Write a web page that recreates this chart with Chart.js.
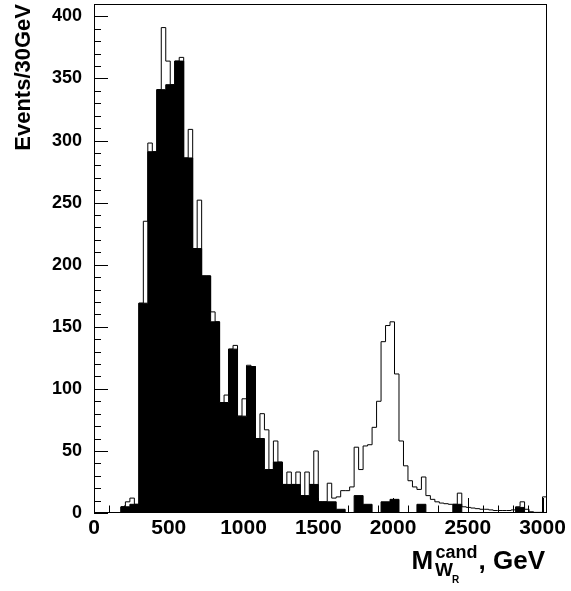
<!DOCTYPE html>
<html>
<head>
<meta charset="utf-8">
<script src="https://cdn.jsdelivr.net/npm/chart.js@4"></script>
<style>
  html, body { margin: 0; padding: 0; background: #fff; }
  #wrap { width: 571px; height: 591px; }
</style>
</head>
<body>
<div id="wrap"><canvas id="chart" width="571" height="591"></canvas></div>
<script>
// signal + background, 30 GeV bins starting at 0 (last bin 3000-3030)
const totalCounts = [
  0, 0, 0, 0, 0, 0, 5, 9, 12, 7,
  169, 235, 298, 291, 341, 391, 364, 345, 364, 367,
  286, 309, 213, 252, 191, 191, 162, 154, 89, 95,
  132, 135, 78, 92, 119, 118, 60, 80, 67, 35,
  58, 41, 23, 33, 23, 33, 14, 33, 23, 50,
  9, 9, 24, 12, 13, 18, 18, 21, 53, 35,
  54, 55, 69, 90, 138, 151, 154, 112, 58, 38,
  26, 21, 19, 29, 14, 11, 9, 8, 7.5, 7,
  7, 16, 5, 4.5, 4, 3.5, 3, 3, 2.5, 2,
  2, 2, 2, 2.5, 5, 9, 3, 1, 0.5, 0.5,
  13,
]
// background only, 60 GeV bins starting at 0
const bkgCounts = [
  0, 0, 0, 5, 7, 169, 291, 341, 345, 364,
  286, 213, 191, 154, 89, 132, 78, 118, 60, 35,
  41, 23, 23, 14, 23, 9, 9, 3, 0, 14,
  7, 0, 9, 11, 0, 0, 7, 0, 0, 0,
  7, 0, 0, 0, 0, 0, 0, 4.5, 0, 0,
]
const xTicks = [0, 500, 1000, 1500, 2000, 2500, 3000]
const yTicks = [0, 50, 100, 150, 200, 250, 300, 350, 400]

const TOTAL_BIN = 30
const BKG_BIN = 60
const X_MAX = 3030
const Y_MAX = 410

function toSteps(counts, width) {
  const pts = counts.map((v, i) => ({ x: i * width, y: v }))
  pts.push({ x: counts.length * width, y: 0 })
  return pts
}

Chart.defaults.font.family = "'Liberation Sans', Arial, Helvetica, sans-serif"
Chart.defaults.font.weight = "bold"
Chart.defaults.color = "#000"

// ROOT style frame, inward ticks and the x title with sub/superscripts
const frameAndTicks = {
  id: "frameAndTicks",
  afterDraw(chart) {
    const { ctx, chartArea: a } = chart
    const x = chart.scales.x
    const y = chart.scales.y
    ctx.save()
    ctx.strokeStyle = "#000"
    ctx.lineWidth = 1
    ctx.strokeRect(a.left + 0.5, a.top + 0.5, a.right - a.left - 1, a.bottom - a.top - 1)
    ctx.beginPath()
    for (let v = 0; v <= 3000; v += 100) {
      const px = Math.round(x.getPixelForValue(v)) + 0.5
      const len = v % 500 === 0 ? 15 : 7.5
      ctx.moveTo(px, a.bottom)
      ctx.lineTo(px, a.bottom - len)
    }
    for (let v = 0; v <= Y_MAX; v += 10) {
      const py = Math.round(y.getPixelForValue(v)) + 0.5
      const len = v % 50 === 0 ? 14 : 7
      ctx.moveTo(a.left, py)
      ctx.lineTo(a.left + len, py)
    }
    ctx.stroke()

    const fam = Chart.defaults.font.family
    ctx.fillStyle = "#000"
    ctx.textAlign = "left"
    ctx.textBaseline = "alphabetic"
    ctx.font = "bold 26px " + fam
    ctx.fillText("M", 411.5, 569)
    ctx.fillText(", GeV", 478.5, 569)
    ctx.font = "bold 18px " + fam
    ctx.fillText("cand", 435.5, 558.3)
    ctx.font = "bold 19px " + fam
    ctx.fillText("W", 435, 576)
    ctx.font = "bold 10px " + fam
    ctx.fillText("R", 452, 583)
    ctx.restore()
  },
}

new Chart(document.getElementById("chart"), {
  type: "line",
  data: {
    datasets: [
      {
        data: toSteps(totalCounts, TOTAL_BIN),
        stepped: "before",
        borderColor: "#000",
        borderWidth: 1,
        pointRadius: 0,
        fill: false,
      },
      {
        data: toSteps(bkgCounts, BKG_BIN),
        stepped: "before",
        borderColor: "#000",
        borderWidth: 1,
        backgroundColor: "#000",
        pointRadius: 0,
        fill: "origin",
      },
    ],
  },
  options: {
    responsive: false,
    animation: false,
    layout: { padding: { top: 4, right: 24, left: 0, bottom: 0 } },
    plugins: { legend: { display: false }, tooltip: { enabled: false } },
    scales: {
      x: {
        type: "linear",
        min: 0,
        max: X_MAX,
        grid: { display: false, drawTicks: false },
        border: { display: false },
        ticks: {
          font: { size: 21, weight: "bold" },
          padding: 3,
          maxRotation: 0,
          callback: (v) => String(v),
        },
        afterBuildTicks: (s) => { s.ticks = xTicks.map((v) => ({ value: v })) },
        afterFit: (s) => {
          s.height = 78
          s.paddingLeft = 0
          s.paddingRight = 0
        },
      },
      y: {
        min: 0,
        max: Y_MAX,
        grid: { display: false, drawTicks: false },
        border: { display: false },
        ticks: {
          font: { size: 18, weight: "bold" },
          padding: 12,
          callback: (v) => String(v),
        },
        afterBuildTicks: (s) => { s.ticks = yTicks.map((v) => ({ value: v })) },
        afterFit: (s) => {
          s.width = 94
          s.paddingTop = 0
          s.paddingBottom = 0
        },
        title: {
          display: true,
          text: "Events/30GeV",
          align: "end",
          font: { size: 22, weight: "bold" },
          padding: { top: 11, bottom: 0 },
        },
      },
    },
  },
  plugins: [frameAndTicks],
})
</script>
</body>
</html>
